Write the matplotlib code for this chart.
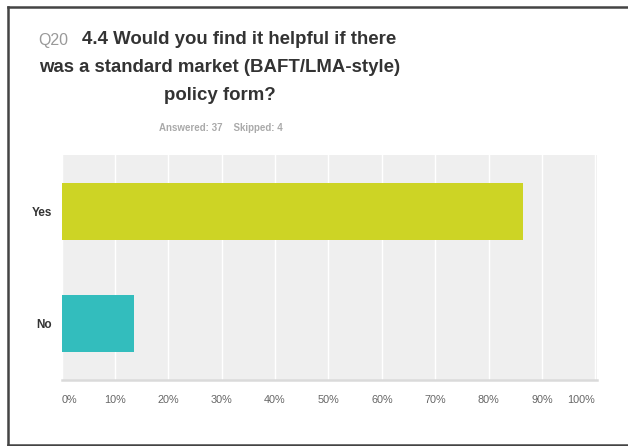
import matplotlib.pyplot as plt
from matplotlib.lines import Line2D
import numpy as np

plt.rcParams['font.family'] = ['Liberation Sans', 'DejaVu Sans']

# survey results (32 of 37 said yes)
answers = ['Yes', 'No']
percent = [86.49, 13.51]
bar_colors = ['#cdd425', '#33bdbd']
tick_vals = np.arange(0, 101, 10)
tick_labels = ['%d%%' % v for v in tick_vals]

W, H = 628, 446
fig = plt.figure(figsize=(W / 100, H / 100), dpi=100)
fig.patch.set_facecolor('white')

# plot area in pixel coords
left, right, top, bottom = 61.5, 597, 155, 380
ax = fig.add_axes([left / W, 1 - bottom / H, (right - left) / W, (bottom - top) / H])
ax.set_facecolor('#efefef')

ypos = np.arange(len(answers))
ax.barh(ypos, percent, height=0.51, color=bar_colors, zorder=3)
ax.set_ylim(len(answers) - 0.5, -0.5)
ax.set_xlim(0, 100.3)

ax.set_xticks(tick_vals)
ax.set_xticklabels(tick_labels)
ax.grid(axis='x', color='white', linewidth=1.0, zorder=1)
ax.tick_params(axis='x', length=0, pad=11, labelsize=7.8, labelcolor='#666666')
xt = ax.get_xticklabels()
xt[0].set_ha('left')
xt[-1].set_ha('right')

ax.set_yticks(ypos)
ax.set_yticklabels(answers, fontweight='bold', fontsize=8.5, color='#333333')
ax.tick_params(axis='y', length=0, pad=7)

for s in ['top', 'right', 'left']:
    ax.spines[s].set_visible(False)
ax.spines['bottom'].set_color('#dadada')
ax.spines['bottom'].set_linewidth(1.8)

# question title
fig.text(68 / W, 1 - 40 / H, 'Q20', ha='right', va='center', fontsize=11.5, color='#999999')
fig.text(82 / W, 1 - 40 / H, '4.4 Would you find it helpful if there', ha='left', va='center',
         fontsize=13.4, fontweight='bold', color='#333333')
fig.text(220 / W, 1 - 68 / H, 'was a standard market (BAFT/LMA-style)', ha='center', va='center',
         fontsize=13.4, fontweight='bold', color='#333333')
fig.text(220 / W, 1 - 96 / H, 'policy form?', ha='center', va='center',
         fontsize=13.4, fontweight='bold', color='#333333')
fig.text(221 / W, 1 - 128 / H, 'Answered: 37    Skipped: 4', ha='center', va='center',
         fontsize=7, fontweight='bold', color='#aaaaaa')

# dark frame on left, top and bottom
fc = '#444444'
fig.add_artist(Line2D([7.5 / W, 7.5 / W], [1 - 6.5 / H, 1 - 444.5 / H], color=fc, lw=1.8))
fig.add_artist(Line2D([7.5 / W, 1], [1 - 6.5 / H, 1 - 6.5 / H], color=fc, lw=1.8))
fig.add_artist(Line2D([7.5 / W, 1], [1 - 444.5 / H, 1 - 444.5 / H], color=fc, lw=1.8))

fig.savefig('out.png', dpi=100)
